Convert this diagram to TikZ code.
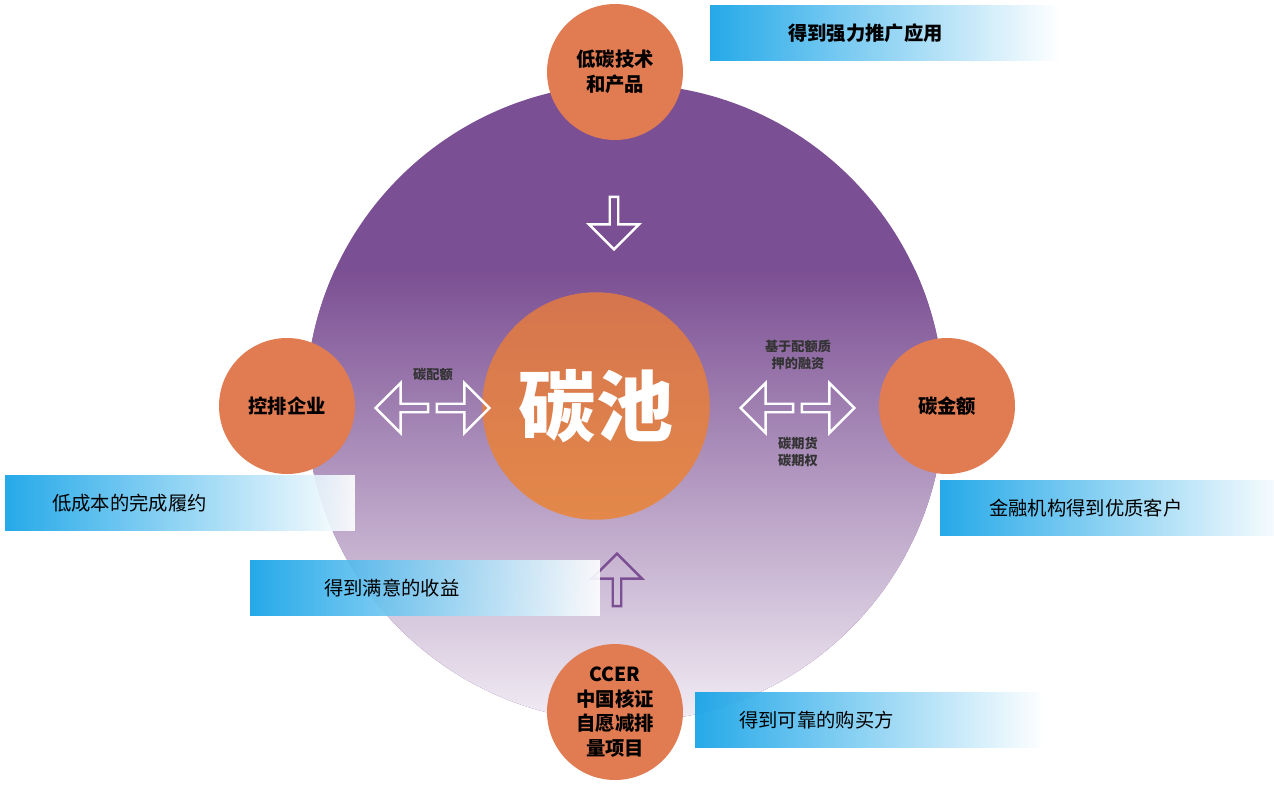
\documentclass[tikz,border=0pt]{standalone}
\usepackage{fontspec}
\setmainfont{Noto Sans CJK SC}
\usetikzlibrary{shapes.arrows, positioning}
\definecolor{pooltop}{HTML}{7B4F93}
\definecolor{poolbot}{HTML}{F3EEF5}
\definecolor{ballor}{HTML}{E07B52}
\definecolor{bannerblue}{HTML}{0EA0E6}
\begin{document}
\begin{tikzpicture}[x=0.02cm, y=-0.02cm,
  every text node part/.style={align=center},
  ball/.style={circle, fill=ballor, minimum size=2.72cm, inner sep=0pt, font=\bfseries\fontsize{11}{14}\selectfont},
  banner/.style={minimum width=7cm, minimum height=1.1cm, left color=bannerblue, right color=white, inner sep=0pt, fill opacity=0.9, text opacity=1},
  btext/.style={anchor=west, font=\fontsize{11}{13}\selectfont},
  hollow/.style={single arrow, draw=white, line width=1.4pt, minimum height=1.05cm, minimum width=1cm, single arrow head extend=0.12cm, inner sep=0pt},
  tiny/.style={font=\bfseries\fontsize{7.5}{10}\selectfont, text=black!80}
]
\useasboundingbox (0,0) rectangle (1274,789);
% pool
\fill[pooltop] (625,403) circle[radius=319];
\begin{scope}
  \clip (625,403) circle[radius=319];
  \shade[top color=pooltop, bottom color=poolbot] (300,270) rectangle (950,725);
\end{scope}
\node[circle, inner sep=0pt, minimum size=4.55cm, top color=ballor!95!black, bottom color=ballor!90!yellow, text=white, font=\bfseries\fontsize{44}{50}\selectfont] (pool) at (596,406) {碳池};

% balls
\node[ball] (tech) at (615,72) {低碳技术\\和产品};
\node[ball] (firm) at (287,406) {控排企业};
\node[ball] (fund) at (947,406) {碳金额};
\node[ball] (ccer) at (615,712) {CCER\\中国核证\\自愿减排\\量项目};

% arrows
\node[hollow, rotate=-90] (down) at (614,221) {};
\node[hollow, rotate=90, draw=pooltop] (up) at (617,582) {};
\node[hollow, rotate=180] (fl) at (404,408) {};
\node[hollow] (fr) at (461,408) {};
\node[hollow, rotate=180] (gl) at (769,408) {};
\node[hollow] (gr) at (826,408) {};
\node[tiny] (quota) at (433,375) {碳配额};
\node[tiny] (pledge) at (798,355) {基于配额质\\押的融资};
\node[tiny] (future) at (798,452) {碳期货\\碳期权};

% banners
\node[banner] (b1) at (885,33) {};
\node[btext, font=\bfseries\fontsize{11}{13}\selectfont] (t1) at (782,33) {得到强力推广应用};
\node[banner] (b2) at (180,503) {};
\node[btext] (t2) at (46,503) {低成本的完成履约};
\node[banner] (b3) at (1115,508) {};
\node[btext] (t3) at (983,508) {金融机构得到优质客户};
\node[banner] (b4) at (425,588) {};
\node[btext] (t4) at (318,588) {得到满意的收益};
\node[banner] (b5) at (870,720) {};
\node[btext] (t5) at (733,720) {得到可靠的购买方};
\end{tikzpicture}
\end{document}
